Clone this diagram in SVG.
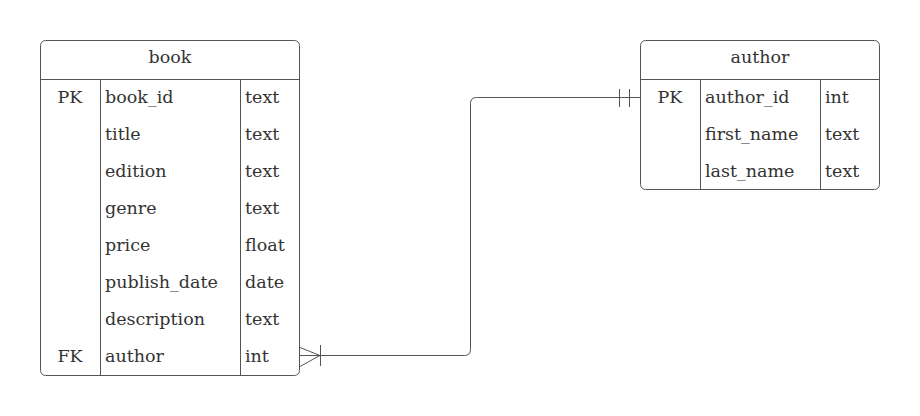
<svg xmlns="http://www.w3.org/2000/svg" width="920" height="416" viewBox="0 0 920 416">
<style>
.box{fill:#fff;stroke:#555;stroke-width:1}
.ln{stroke:#555;stroke-width:1;fill:none}
.t{font-family:"DejaVu Serif","Liberation Serif",serif;font-size:17.5px;fill:#333}
.c{text-anchor:middle}
</style>
<rect width="920" height="416" fill="#fff"/>
<g id="book">
<rect class="box" x="40.5" y="40.5" width="259" height="335" rx="5"/>
<line class="ln" x1="40.5" y1="79.5" x2="299.5" y2="79.5"/>
<line class="ln" x1="100.5" y1="79.5" x2="100.5" y2="375.5"/>
<line class="ln" x1="240.5" y1="79.5" x2="240.5" y2="375.5"/>
<text class="t c" x="170" y="63">book</text>
<text class="t c" x="70" y="103">PK</text>
<text class="t" x="105" y="103">book_id</text><text class="t" x="245" y="103">text</text>
<text class="t" x="105" y="140">title</text><text class="t" x="245" y="140">text</text>
<text class="t" x="105" y="177">edition</text><text class="t" x="245" y="177">text</text>
<text class="t" x="105" y="214">genre</text><text class="t" x="245" y="214">text</text>
<text class="t" x="105" y="251">price</text><text class="t" x="245" y="251">float</text>
<text class="t" x="105" y="288">publish_date</text><text class="t" x="245" y="288">date</text>
<text class="t" x="105" y="325">description</text><text class="t" x="245" y="325">text</text>
<text class="t c" x="70" y="362">FK</text>
<text class="t" x="105" y="362">author</text><text class="t" x="245" y="362">int</text>
</g>
<g id="author">
<rect class="box" x="640.5" y="40.5" width="239" height="149" rx="5"/>
<line class="ln" x1="640.5" y1="79.5" x2="879.5" y2="79.5"/>
<line class="ln" x1="700.5" y1="79.5" x2="700.5" y2="189.5"/>
<line class="ln" x1="820.5" y1="79.5" x2="820.5" y2="189.5"/>
<text class="t c" x="760" y="63">author</text>
<text class="t c" x="670" y="103">PK</text>
<text class="t" x="705" y="103">author_id</text><text class="t" x="825" y="103">int</text>
<text class="t" x="705" y="140">first_name</text><text class="t" x="825" y="140">text</text>
<text class="t" x="705" y="177">last_name</text><text class="t" x="825" y="177">text</text>
</g>
<g id="connectors">
<path class="ln" d="M300 355.5 H464.5 Q470.5 355.5 470.5 349.5 V103.5 Q470.5 97.5 476.5 97.5 H640"/>
<path class="ln" d="M300 347.5 L320 355.5 L300 366.5"/>
<line class="ln" x1="320.5" y1="345" x2="320.5" y2="366"/>
<line class="ln" x1="619.5" y1="89" x2="619.5" y2="107"/>
<line class="ln" x1="629.5" y1="89" x2="629.5" y2="107"/>
</g>
</svg>
